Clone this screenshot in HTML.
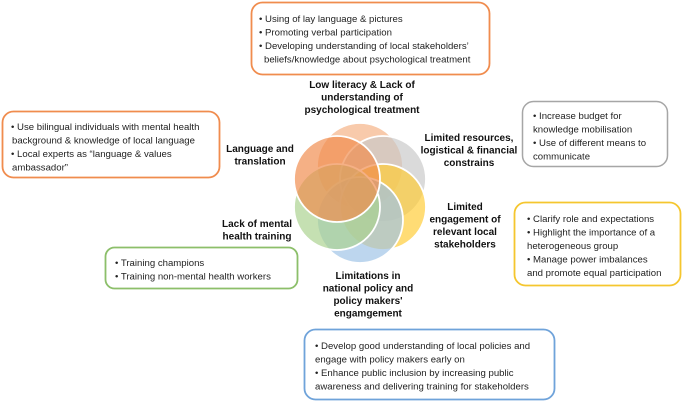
<!DOCTYPE html>
<html><head><meta charset="utf-8"><style>
html,body{margin:0;padding:0;background:#fff;}
svg{display:block;font-family:"Liberation Sans",sans-serif;}
.t{font-size:9.6px;fill:#222;}
.b{font-size:10px;font-weight:bold;fill:#111;text-anchor:middle;}
</style></head><body>
<svg width="683" height="402" viewBox="0 0 683 402">
<rect x="251.5" y="2.5" width="238" height="72" rx="11" fill="#fff" stroke="#F08C4E" stroke-width="1.8"/>
<text class="t" x="259" y="22">• Using of lay language &amp; pictures</text>
<text class="t" x="259" y="35.5">• Promoting verbal participation</text>
<text class="t" x="259" y="49">• Developing understanding of local stakeholders’</text>
<text class="t" x="264" y="62.5">beliefs/knowledge about psychological treatment</text>

<rect x="2.5" y="111.5" width="217" height="66" rx="11" fill="#fff" stroke="#F08C4E" stroke-width="1.8"/>
<text class="t" x="11" y="130">• Use bilingual individuals with mental health</text>
<text class="t" x="12" y="143.5">background &amp; knowledge of local language</text>
<text class="t" x="11" y="157">• Local experts as “language &amp; values</text>
<text class="t" x="12" y="170.5">ambassador”</text>

<rect x="522.5" y="101.5" width="145" height="65" rx="11" fill="#fff" stroke="#A6A6A6" stroke-width="1.5"/>
<text class="t" x="533" y="119">• Increase budget for</text>
<text class="t" x="533" y="132.5">knowledge mobilisation</text>
<text class="t" x="533" y="146">• Use of different means to</text>
<text class="t" x="533" y="159.5">communicate</text>

<rect x="514.5" y="202.5" width="166" height="83" rx="11" fill="#fff" stroke="#F5C62E" stroke-width="1.8"/>
<text class="t" x="527" y="222">• Clarify role and expectations</text>
<text class="t" x="527" y="235.5">• Highlight the importance of a</text>
<text class="t" x="527" y="249">heterogeneous group</text>
<text class="t" x="527" y="262.5">• Manage power imbalances</text>
<text class="t" x="527" y="276">and promote equal participation</text>

<rect x="105.5" y="247.5" width="192" height="41" rx="9" fill="#fff" stroke="#8CBF6A" stroke-width="1.8"/>
<text class="t" x="115" y="266">• Training champions</text>
<text class="t" x="115" y="279.5">• Training non-mental health workers</text>

<rect x="304.5" y="329.5" width="250" height="70" rx="11" fill="#fff" stroke="#6FA3DA" stroke-width="1.8"/>
<text class="t" x="315" y="349">• Develop good understanding of local policies and</text>
<text class="t" x="315" y="362.5">engage with policy makers early on</text>
<text class="t" x="315" y="376">• Enhance public inclusion by increasing public</text>
<text class="t" x="315" y="389.5">awareness and delivering training for stakeholders</text>

<g stroke="#fff" stroke-width="1.8" fill-opacity="0.68">
<circle cx="360" cy="166" r="43" fill="#F4B183"/>
<circle cx="383" cy="179" r="43" fill="#C9C9C9"/>
<circle cx="383" cy="207" r="43" fill="#FFCC33"/>
<circle cx="360" cy="220" r="43" fill="#9DC3E6"/>
<circle cx="337" cy="207" r="43" fill="#A9D18E"/>
<circle cx="337" cy="179" r="43" fill="#F08A4B"/>
</g>

<text class="b" x="362" y="88">Low literacy &amp; Lack of</text>
<text class="b" x="362" y="100.5">understanding of</text>
<text class="b" x="362" y="113">psychological treatment</text>
<text class="b" x="260" y="152">Language and</text>
<text class="b" x="260" y="164.5">translation</text>
<text class="b" x="469" y="141">Limited resources,</text>
<text class="b" x="469" y="153.5">logistical &amp; financial</text>
<text class="b" x="469" y="166">constrains</text>
<text class="b" x="465" y="210">Limited</text>
<text class="b" x="465" y="222.5">engagement of</text>
<text class="b" x="465" y="235">relevant local</text>
<text class="b" x="465" y="247.5">stakeholders</text>
<text class="b" x="257" y="227">Lack of mental</text>
<text class="b" x="257" y="239.5">health training</text>
<text class="b" x="368" y="279">Limitations in</text>
<text class="b" x="368" y="291.5">national policy and</text>
<text class="b" x="368" y="304">policy makers'</text>
<text class="b" x="368" y="316.5">engamgement</text>
</svg>
</body></html>
